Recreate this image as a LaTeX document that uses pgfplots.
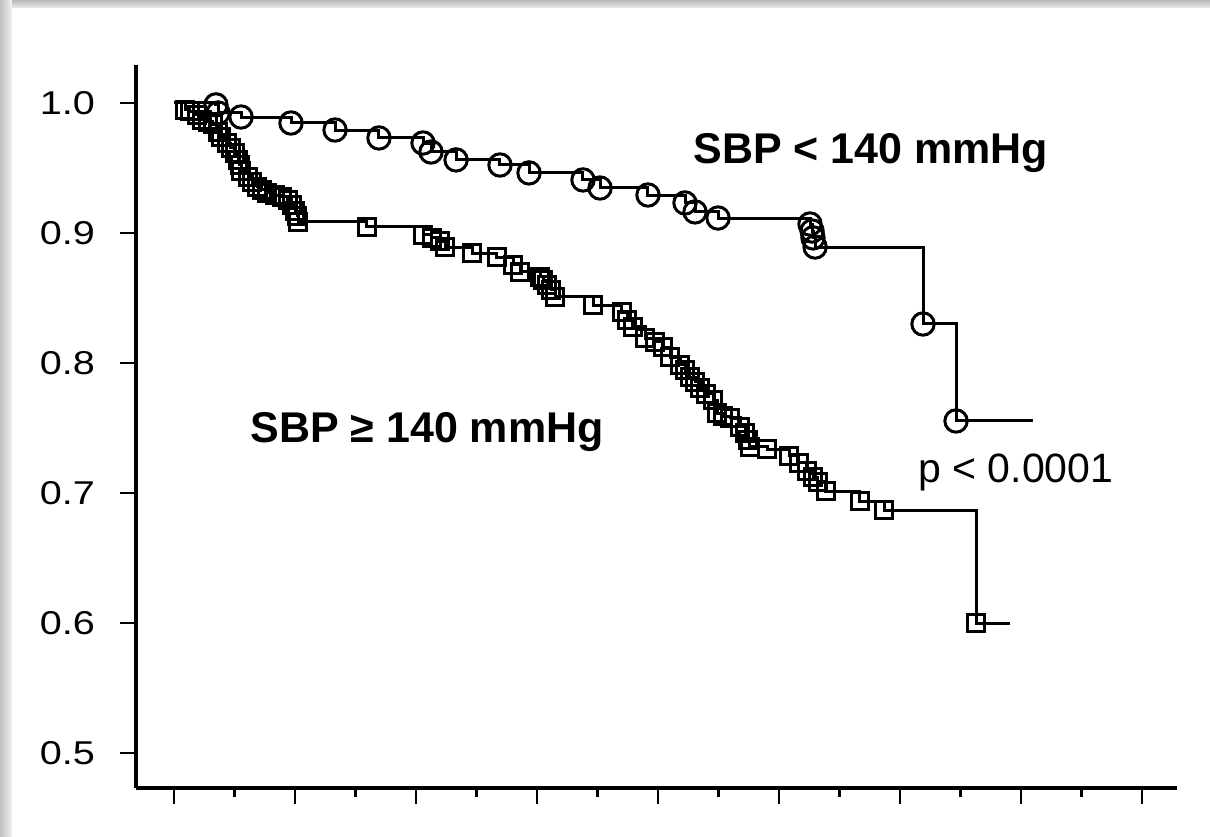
\documentclass[border=0pt]{standalone}
\usepackage{pgfplots}
\pgfplotsset{compat=1.18}
\usepackage{pgfplotstable}
\usepackage{graphicx}
\usepackage{fontspec}
\setmainfont{Liberation Sans}

% Kaplan-Meier estimates, x in units of one major tick
\pgfplotstableread{
t s
0     1.0
0.347 0.9985
0.364 0.9923
0.554 0.9892
0.967 0.9846
1.331 0.9792
1.694 0.9731
2.058 0.9692
2.124 0.9623
2.331 0.9562
2.694 0.9523
2.934 0.9462
3.380 0.9408
3.521 0.9346
3.917 0.9292
4.223 0.9231
4.306 0.9162
4.496 0.9115
5.256 0.9069
5.273 0.9015
5.281 0.8962
5.298 0.8892
6.190 0.8300
6.463 0.7554
7.099 0.7554
}\lowsbp

\pgfplotstableread{
t s
0     1.0
0.091 0.9946
0.132 0.9938
0.190 0.9908
0.231 0.9869
0.281 0.9854
0.322 0.9838
0.364 0.9777
0.388 0.9738
0.438 0.9692
0.471 0.9654
0.504 0.9615
0.529 0.9562
0.545 0.9523
0.554 0.9477
0.612 0.9431
0.645 0.9392
0.686 0.9354
0.727 0.9331
0.769 0.9308
0.835 0.9292
0.893 0.9277
0.942 0.9254
0.975 0.9215
1.000 0.9169
1.017 0.9131
1.025 0.9085
1.595 0.9046
2.058 0.8985
2.132 0.8962
2.198 0.8938
2.240 0.8892
2.463 0.8846
2.669 0.8815
2.802 0.8754
2.860 0.8700
3.025 0.8662
3.050 0.8638
3.083 0.8600
3.116 0.8562
3.149 0.8508
3.463 0.8446
3.702 0.8392
3.744 0.8331
3.793 0.8277
3.893 0.8192
3.975 0.8162
4.041 0.8123
4.099 0.8046
4.182 0.7985
4.223 0.7946
4.264 0.7892
4.306 0.7854
4.347 0.7808
4.397 0.7762
4.455 0.7715
4.488 0.7615
4.537 0.7592
4.595 0.7577
4.678 0.7508
4.719 0.7462
4.744 0.7408
4.760 0.7354
4.901 0.7338
5.083 0.7285
5.165 0.7231
5.231 0.7169
5.281 0.7123
5.322 0.7085
5.388 0.7015
5.669 0.6938
5.868 0.6869
6.628 0.6000
6.909 0.6000
}\highsbp

\begin{document}
\begin{tikzpicture}
\path[use as bounding box] (-68pt,-24pt) rectangle (537pt,394pt);

\begin{axis}[
    scale only axis,
    width=520.5pt,
    height=361.5pt,
    at={(0,0)},
    anchor=south west,
    xmin=-0.314, xmax=8.289,
    ymin=0.4731, ymax=1.0292,
    axis lines=left,
    axis line style={-, line width=1.8pt},
    tick align=outside,
    major tick length=8pt,
    minor tick length=4.5pt,
    tick style={black, line width=1.4pt},
    xtick={0,1,...,8},
    minor x tick num=1,
    xticklabels={},
    ytick={0.5,0.6,...,1.0},
    /pgf/number format/assume math mode=true,
    yticklabel={\scalebox{1.2}[1]{\pgfmathprintnumber[fixed,fixed zerofill,precision=1]{\tick}}},
    yticklabel style={font=\fontsize{16.5}{16.5}\selectfont, anchor=east, xshift=-9pt},
    clip=false,
]
\addplot[const plot, black, line width=1.5pt,
    mark=o, mark size=5.6pt, mark indices={2,...,24},
    mark options={line width=1.5pt, solid}] table[x=t, y=s] {\lowsbp};
\addplot[const plot, black, line width=1.5pt,
    mark=square, mark size=4.3pt, mark indices={2,...,73},
    mark options={line width=1.3pt, solid}] table[x=t, y=s] {\highsbp};

\node[anchor=base west, inner sep=0pt, font=\bfseries\fontsize{21.5}{21.5}\selectfont]
    at (axis cs:4.289,0.9538) {SBP < 140 mmHg};
\node[anchor=base west, inner sep=0pt, font=\bfseries\fontsize{21.5}{21.5}\selectfont]
    at (axis cs:0.628,0.7385) {SBP ≥ 140 mmHg};
\node[anchor=base west, inner sep=0pt, font=\fontsize{20.5}{20.5}\selectfont]
    at (axis cs:6.149,0.7077) {p < 0.0001};
\end{axis}

% screenshot edge shading
\shade[top color=gray!55, bottom color=gray!15] (-68pt,390pt) rectangle (537pt,394pt);
\shade[left color=gray!50, right color=gray!10] (-68pt,-24pt) rectangle (-62pt,394pt);
\end{tikzpicture}
\end{document}
